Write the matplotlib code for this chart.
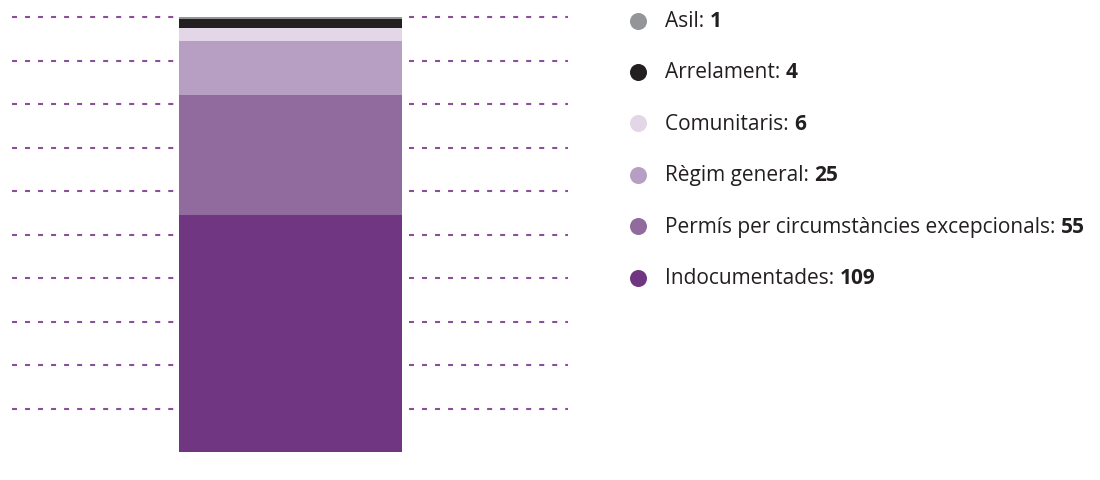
import matplotlib.pyplot as plt

plt.rcParams['font.family'] = ['Open Sans', 'DejaVu Sans']

# data (bottom to top)
categories = ['Indocumentades', 'Permís per circumstàncies excepcionals',
              'Règim general', 'Comunitaris', 'Arrelament', 'Asil']
values = [109, 55, 25, 6, 4, 1]
colors = ['#713682', '#916a9e', '#b79ec3', '#e2d6e7', '#231f20', '#939598']
grid_levels = [20, 40, 60, 80, 100, 120, 140, 160, 180, 200]

W, H = 1100, 481
fig = plt.figure(figsize=(W / 100, H / 100), dpi=100)

# bar area, x in pixels, y in data units
ax = fig.add_axes([0, (H - 453) / H, 600 / W, (453 - 18) / H])
ax.set_xlim(0, 600)
ax.set_ylim(0, 200)
ax.axis('off')

grid_color = '#8b4f9a'
for lv in grid_levels:
    for x0, x1 in [(12, 178), (409, 568)]:
        ax.plot([x0, x1], [lv, lv], color=grid_color, lw=1.5,
                dashes=(2.4, 3.85), dash_capstyle='butt',
                zorder=1, clip_on=False)

bottom = 0
for v, c in zip(values, colors):
    ax.bar(290.5, v, width=223, bottom=bottom, color=c, linewidth=0, zorder=2)
    bottom += v

# legend (top to bottom), y in pixels
lax = fig.add_axes([600 / W, 0, 500 / W, 1])
lax.set_xlim(600, 1100)
lax.set_ylim(H, 0)
lax.axis('off')

row_y = 21.5
for name, v, c in zip(categories[::-1], values[::-1], colors[::-1]):
    lax.scatter([637.5], [row_y], s=150, color=c, linewidths=0)
    t = lax.text(665, row_y, f'{name}: ', fontsize=15, color='#231f20',
                 va='center', ha='left')
    lax.annotate(str(v), xy=(1, 0.5), xycoords=t, fontsize=15, fontweight='bold',
                 color='#231f20', va='center', ha='left')
    row_y += 51.4

fig.savefig('out.png', dpi=100)
